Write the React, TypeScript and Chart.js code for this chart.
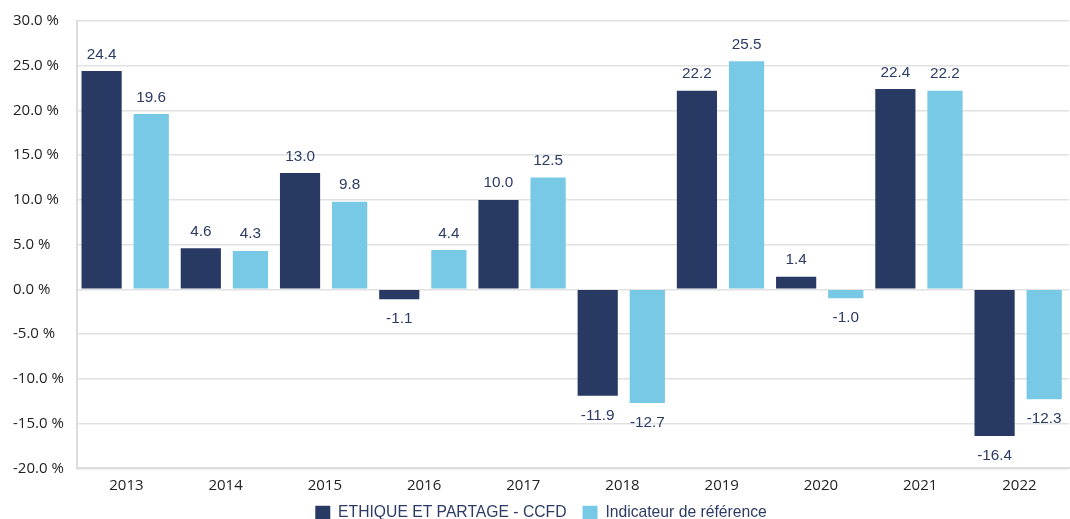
import React, { useEffect, useRef } from "react";
import { Chart, registerables } from "chart.js";

Chart.register(...registerables);

const years = ["2013", "2014", "2015", "2016", "2017", "2018", "2019", "2020", "2021", "2022"];
const fundValues = [24.4, 4.6, 13.0, -1.1, 10.0, -11.9, 22.2, 1.4, 22.4, -16.4];
const benchmarkValues = [19.6, 4.3, 9.8, 4.4, 12.5, -12.7, 25.5, -1.0, 22.2, -12.3];
const seriesNames = ["ETHIQUE ET PARTAGE - CCFD", "Indicateur de référence"];

const NAVY = "#283a63";
const LIGHT = "#77c9e5";
const LABEL_COLOR = "#2c3b66";

const valueLabels = {
  id: "valueLabels",
  afterDatasetsDraw(chart: any) {
    const ctx = chart.ctx;
    ctx.save();
    ctx.font = "15.3px 'Liberation Sans', Arial, sans-serif";
    ctx.fillStyle = LABEL_COLOR;
    ctx.textAlign = "center";
    chart.data.datasets.forEach((ds: any, di: number) => {
      const meta = chart.getDatasetMeta(di);
      meta.data.forEach((bar: any, i: number) => {
        const v = ds.data[i];
        const txt = v.toFixed(1);
        if (v >= 0) {
          ctx.textBaseline = "bottom";
          ctx.fillText(txt, bar.x, bar.y - 9);
        } else {
          ctx.textBaseline = "top";
          ctx.fillText(txt, bar.x, bar.y + 12);
        }
      });
    });
    ctx.restore();
  },
};

export default function App() {
  const ref = useRef<HTMLCanvasElement | null>(null);
  useEffect(() => {
    if (!ref.current) return;
    const chart = new Chart(ref.current, {
      type: "bar",
      data: {
        labels: years,
        datasets: [
          {
            label: seriesNames[0],
            data: fundValues,
            backgroundColor: NAVY,
            categoryPercentage: 1,
            barPercentage: 0.81,
          },
          {
            label: seriesNames[1],
            data: benchmarkValues,
            backgroundColor: LIGHT,
            categoryPercentage: 1,
            barPercentage: 0.71,
          },
        ],
      },
      options: {
        responsive: true,
        maintainAspectRatio: false,
        animation: false,
        layout: { padding: { top: 21, right: 1, left: 13, bottom: 0 } },
        plugins: {
          legend: {
            position: "bottom",
            labels: {
              boxWidth: 15,
              boxHeight: 15,
              padding: 3,
              color: LABEL_COLOR,
              font: { family: "'Liberation Sans', Arial, sans-serif", size: 15.7 },
              generateLabels: (c: any) => {
                const items = Chart.defaults.plugins.legend.labels.generateLabels(c);
                if (items.length > 0) items[0].text = items[0].text + "   ";
                return items;
              },
            },
          },
          tooltip: { enabled: false },
        },
        scales: {
          x: {
            grid: { display: false, drawTicks: false },
            border: { display: true, color: "#dddddd", width: 2 },
            ticks: {
              color: "#222222",
              font: { family: "'Open Sans', sans-serif", size: 15, lineHeight: 0.67 },
              padding: 12,
            },
          },
          y: {
            min: -20,
            max: 30,
            ticks: {
              stepSize: 5,
              color: "#222222",
              crossAlign: "far",
              font: { family: "'Open Sans', sans-serif", size: 15 },
              padding: 6.5,
              callback: (v: any) => Number(v).toFixed(1) + " %",
            },
            grid: { color: "#e2e2e2", lineWidth: 1.5, drawTicks: false },
            border: { display: true, color: "#dddddd", width: 2 },
          },
        },
      },
      plugins: [valueLabels],
    });
    return () => chart.destroy();
  }, []);
  return (
    <div style={{ position: "absolute", left: 0, top: 0, width: 1070, height: 519, overflow: "hidden" }}>
      <div style={{ position: "relative", width: 1070, height: 531 }}>
        <canvas ref={ref} />
      </div>
    </div>
  );
}
